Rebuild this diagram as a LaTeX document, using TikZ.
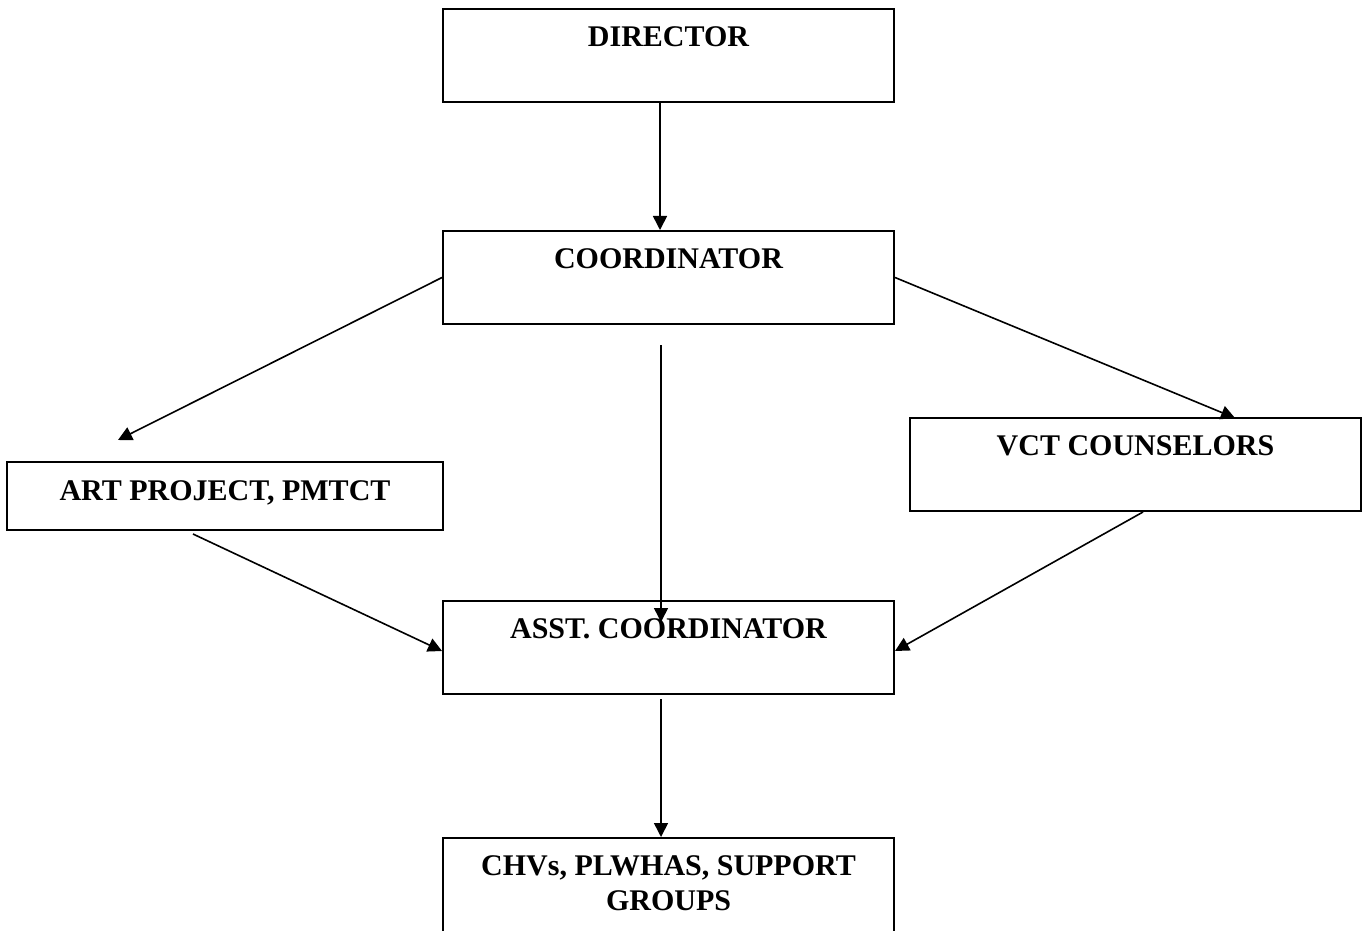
\documentclass[tikz,border=0pt]{standalone}
\usepackage{fontspec}
\setmainfont{Liberation Serif}
\usetikzlibrary{arrows.meta}

\begin{document}
\begin{tikzpicture}[x=0.5pt,y=-0.5pt,
    box/.style={draw,line width=1pt,minimum width=225.5pt,minimum height=46.5pt,inner sep=0pt},
    title/.style={anchor=north,yshift=-9pt,inner sep=0pt,align=center,
      font=\fontsize{15}{17.5}\selectfont\bfseries},
    arr/.style={line width=0.8pt,-{Triangle[length=7pt,width=7pt]}}]
  % Page
  \clip (0,0) rectangle (1368,930);

  % Boxes
  \node[box,label={[title]north:DIRECTOR}] (director) at (668.5,55.5) {};
  \node[box,label={[title]north:COORDINATOR}] (coord) at (668.5,277.5) {};
  \node[box,minimum width=218pt,minimum height=34pt,
    label={[title,yshift=-0.5pt]north:ART PROJECT, PMTCT}] (art) at (225,496) {};
  \node[box,label={[title]north:VCT COUNSELORS}] (vct) at (1135.5,464.5) {};
  \node[box,label={[title]north:ASST. COORDINATOR}] (asst) at (668.5,647.5) {};
  \node[box,minimum height=56pt,
    label={[title]north:CHVs, PLWHAS, SUPPORT\\GROUPS}] (chv) at (668.5,894) {};

  % Free ends
  \coordinate (artin) at (118,440);
  \coordinate (vctin) at (1235,418);
  \coordinate (midtop) at (661,345);
  \coordinate (midbot) at (661,622);
  \coordinate (artout) at (193,534);

  % Arrows
  \draw[arr] ([xshift=-4.25pt]director.south) -- ([xshift=-4.25pt]coord.north);
  \draw[arr] (coord.west) -- (artin);
  \draw[arr] (coord.east) -- (vctin);
  \draw[arr] (midtop) -- (midbot);
  \draw[arr] (artout) -- ([yshift=-1.75pt]asst.west);
  \draw[arr] ([xshift=3.75pt]vct.south) -- ([yshift=-1.75pt]asst.east);
  \draw[arr] ([xshift=-3.75pt,yshift=-2pt]asst.south) -- ([xshift=-3.75pt]chv.north);
\end{tikzpicture}
\end{document}
